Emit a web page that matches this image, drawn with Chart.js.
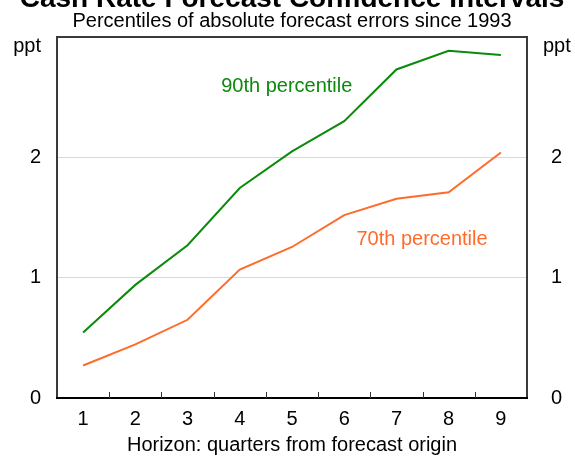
<!DOCTYPE html>
<html>
<head>
<meta charset="utf-8">
<script src="https://cdn.jsdelivr.net/npm/chart.js@4.4.1/dist/chart.umd.min.js"></script>
<style>
  html, body { margin: 0; padding: 0; background: #fff; }
  #wrap { position: relative; width: 575px; height: 456px; }
</style>
</head>
<body>
<div id="wrap"><canvas id="chart" width="575" height="456"></canvas></div>
<script>
// --- Data ---
const horizons = ["1", "2", "3", "4", "5", "6", "7", "8", "9"];
const pct90 = [0.545, 0.94, 1.27, 1.745, 2.05, 2.30, 2.73, 2.885, 2.85];
const pct70 = [0.27, 0.445, 0.65, 1.067, 1.255, 1.52, 1.655, 1.71, 2.04];
const yMax = 3;

const FONT = "'Liberation Sans', Arial, sans-serif";
const GREEN = "#0b8a0b", ORANGE = "#ff6b2b";

// label anchors in data units (category index, value)
const seriesLabels = [
  { text: "90th percentile", x: 3.9, y: 2.59, color: GREEN },
  { text: "70th percentile", x: 6.49, y: 1.32, color: ORANGE }
];

const decor = {
  id: "decor",
  afterDraw(chart) {
    const { ctx, chartArea: a, scales } = chart;
    const xs = scales.x, ys = scales.y;
    const cx = (a.left + a.right) / 2;
    ctx.save();
    ctx.fillStyle = "#000";
    ctx.textBaseline = "alphabetic";
    ctx.textAlign = "center";
    // title, cut off at the top like the reference
    ctx.font = "bold 28px " + FONT;
    ctx.fillText("Cash Rate Forecast Confidence Intervals", cx, 7);
    ctx.font = "20px " + FONT;
    ctx.fillText("Percentiles of absolute forecast errors since 1993", cx, 27);
    // unit labels
    ctx.textAlign = "right";
    ctx.fillText("ppt", a.left - 16, 52);
    ctx.textAlign = "left";
    ctx.fillText("ppt", a.right + 16, 52);

    // frame
    ctx.lineWidth = 2;
    ctx.strokeStyle = "#3a3a3a";
    ctx.strokeRect(a.left, a.top, a.right - a.left, a.bottom - a.top);
    ctx.strokeStyle = "#000";
    ctx.beginPath();
    ctx.moveTo(a.left - 1, a.bottom);
    ctx.lineTo(a.right + 1, a.bottom);
    ctx.stroke();

    // inner tick marks between categories
    ctx.lineWidth = 1;
    ctx.strokeStyle = "#333";
    for (let i = 0; i < horizons.length - 1; i++) {
      const x = Math.round((xs.getPixelForValue(i) + xs.getPixelForValue(i + 1)) / 2) + 0.5;
      ctx.beginPath();
      ctx.moveTo(x, a.bottom);
      ctx.lineTo(x, a.bottom - 6);
      ctx.stroke();
    }

    // series labels
    ctx.textAlign = "center";
    ctx.textBaseline = "middle";
    seriesLabels.forEach((l) => {
      ctx.fillStyle = l.color;
      ctx.fillText(l.text, xs.getPixelForValue(l.x), ys.getPixelForValue(l.y));
    });
    ctx.restore();
  }
};

const tickFont = { family: FONT, size: 20 };
const yTicks = {
  stepSize: 1,
  color: "#000",
  font: tickFont,
  padding: 16,
  callback: (v) => (v === yMax ? "" : v)
};

new Chart(document.getElementById("chart"), {
  type: "line",
  data: {
    labels: horizons,
    datasets: [
      { label: "90th percentile", data: pct90, borderColor: GREEN, borderWidth: 2, pointRadius: 0, tension: 0 },
      { label: "70th percentile", data: pct70, borderColor: ORANGE, borderWidth: 2, pointRadius: 0, tension: 0 }
    ]
  },
  options: {
    responsive: false,
    animation: false,
    devicePixelRatio: 1,
    layout: { padding: { top: 37, left: 0, right: 0, bottom: 0 } },
    plugins: { legend: { display: false }, tooltip: { enabled: false } },
    scales: {
      x: {
        offset: true,
        grid: { display: false },
        border: { display: false },
        ticks: { color: "#000", font: tickFont, padding: 1, maxRotation: 0 },
        title: {
          display: true, text: "Horizon: quarters from forecast origin",
          color: "#000", font: { family: FONT, size: 20, lineHeight: 1.05 },
          padding: { top: 0, bottom: 0 }
        },
        afterFit: (s) => { s.height = 58; }
      },
      y: {
        position: "left", min: 0, max: yMax,
        ticks: yTicks,
        grid: {
          drawTicks: false, lineWidth: 1,
          color: (c) => (c.tick.value > 0 && c.tick.value < yMax ? "#d9d9d9" : "rgba(0,0,0,0)")
        },
        border: { display: false },
        afterFit: (s) => { s.width = 57; }
      },
      y2: {
        position: "right", min: 0, max: yMax,
        ticks: yTicks,
        grid: { display: false },
        border: { display: false },
        afterFit: (s) => { s.width = 48; }
      }
    }
  },
  plugins: [decor]
});
</script>
</body>
</html>
